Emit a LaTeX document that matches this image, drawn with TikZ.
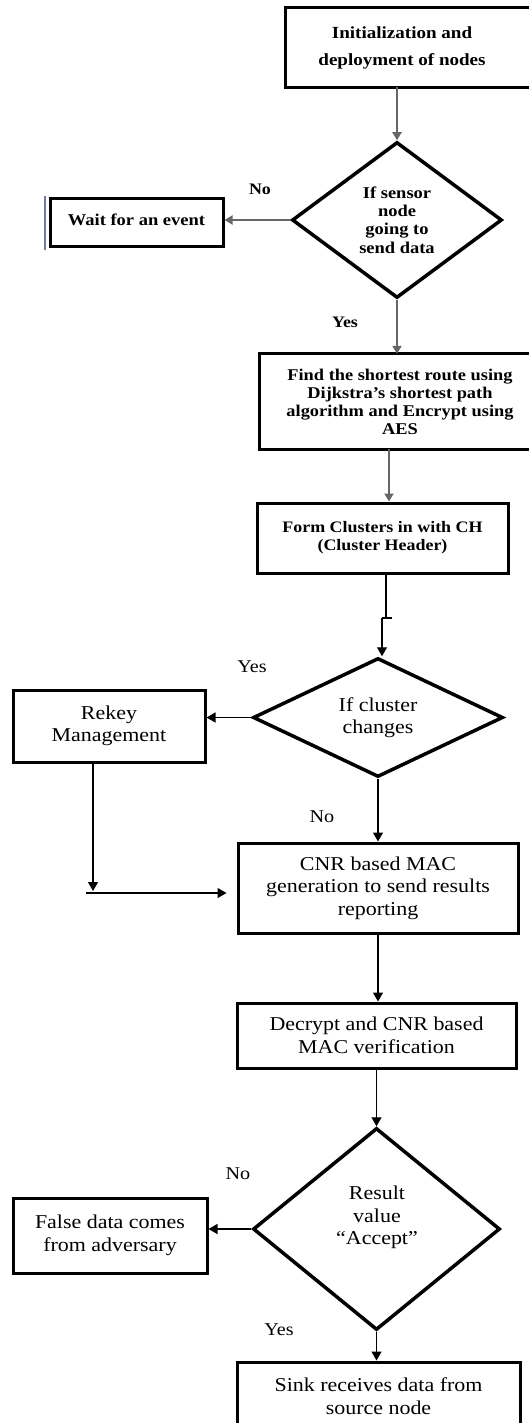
\documentclass[tikz,border=0pt]{standalone}
\usepackage{fontspec}
\setmainfont[FakeStretch=1.12]{Liberation Serif}
\usetikzlibrary{shapes.geometric,arrows.meta}
\tikzset{
  boxnode/.style={draw, line width=3pt, rectangle, inner sep=0pt, align=center},
  txtnode/.style={inner sep=0pt, align=center},
  frameline/.style={draw, line width=3pt},
  dianode/.style={draw, diamond, line width=3.5pt, inner sep=0pt, align=center},
  upfont/.style={font=\fontsize{16.5}{18.3}\selectfont\bfseries},
  lowfont/.style={font=\fontsize{19.6}{22.5}\selectfont},
  uplabel/.style={inner sep=0pt, font=\fontsize{16}{18}\selectfont\bfseries},
  lowlabel/.style={inner sep=0pt, font=\fontsize{18}{20}\selectfont},
  conU/.style={draw=black!60, line width=2pt, -{Triangle[length=8pt,width=9pt]}},
  conL/.style={draw=black, line width=1.3pt, -{Triangle[length=9pt,width=10pt]}},
  plainL/.style={draw=black, line width=1.3pt}
}
\begin{document}
\begin{tikzpicture}[x=1pt,y=-1pt]
\useasboundingbox (0,0) rectangle (529,1423);
\fill[white] (0,0) rectangle (529,1423);
\clip (0,0) rectangle (529,1423);

% Box 1 (runs off the right edge)
\node[txtnode, minimum width=232pt, minimum height=79pt,
      font=\fontsize{17}{27}\selectfont\bfseries] (b1) at (402,47.5)
  {Initialization and\\deployment of nodes};
\draw[frameline] (b1.north west) rectangle ([xshift=40pt]b1.south east);

% Decision 1
\node[dianode, upfont, minimum width=210pt, minimum height=156pt, shape aspect=1.35] (d1) at (397,220)
  {If sensor\\node\\going to\\send data};

% Wait box
\node[boxnode, upfont, minimum width=173pt, minimum height=48pt] (wait) at (136.5,223)
  {\raisebox{6pt}{Wait for an event}};
\draw[draw={rgb,255:red,110;green,125;blue,160}, line width=2pt] (45,196) -- (45,250);

% Box 3 (runs off the right edge)
\node[txtnode, font=\fontsize{16.4}{18}\selectfont\bfseries, minimum width=280pt, minimum height=95pt] (b3) at (400,401.5)
  {Find the shortest route using\\Dijkstra’s shortest path\\algorithm and Encrypt using\\AES};
\draw[frameline] (b3.north west) rectangle ([xshift=40pt]b3.south east);

% Box 4
\node[boxnode, font=\fontsize{16}{18}\selectfont\bfseries, minimum width=251pt, minimum height=70pt] (b4) at (382.5,538)
  {\raisebox{6pt}{\begin{tabular}{@{}c@{}}Form Clusters in with CH\\(Cluster Header)\end{tabular}}};

% Decision 2
\node[dianode, lowfont, minimum width=250pt, minimum height=119pt, shape aspect=2.1] (d2) at (378,717.5)
  {If cluster\\changes};

% Rekey box
\node[boxnode, lowfont, minimum width=192pt, minimum height=72pt] (rk) at (109,726)
  {Rekey\\Management};

% CNR box
\node[boxnode, lowfont, minimum width=280pt, minimum height=90pt] (cnr) at (378,888)
  {CNR based MAC\\generation to send results\\reporting};

% Decrypt box
\node[boxnode, lowfont, minimum width=279pt, minimum height=65pt] (dec) at (376.5,1035.5)
  {Decrypt and CNR based\\MAC verification};

% Decision 3
\node[dianode, minimum width=247pt, minimum height=202pt] (d3) at (376.5,1229) {};
\node[txtnode, lowfont] (d3t) at (377,1217.5) {Result\\value\\“Accept”};

% False data box
\node[boxnode, lowfont, minimum width=194pt, minimum height=75pt] (fal) at (110,1235.5)
  {False data comes\\from adversary};

% Sink box (runs off the bottom edge)
\node[boxnode, lowfont, minimum width=283pt, minimum height=68pt] (sink) at (378.5,1396)
  {Sink receives data from\\source node};

% Labels
\node[uplabel] (lno1) at (260,189) {No};
\node[uplabel] (lyes1) at (345,322) {Yes};
\node[lowlabel] (lyes2) at (252,667) {Yes};
\node[lowlabel] (lno2) at (322,817) {No};
\node[lowlabel] (lno3) at (238,1174) {No};
\node[lowlabel] (lyes3) at (279,1330) {Yes};

% Connectors (upper part)
\draw[conU] (d1.north |- b1.south) -- (d1.north);
\draw[conU] (d1.west) -- (d1.west -| wait.east);
\draw[conU] (d1.south) -- (d1.south |- b3.north);
\draw[conU] ([xshift=-11pt]b3.south) -- ([xshift=-11pt]b3.south |- b4.north);

% b4 -> d2 with small jog
\coordinate (j1) at (386,618);
\coordinate (j2) at (382,618);
\draw[plainL] (b4.south -| j1) -- (j1);
\draw[plainL] (j2) -- ++(10,0);
\draw[conL] (j2) -- (j2 |- d2.north);

% Lower connectors
\draw[conL] (d2.west) -- (d2.west -| rk.east);
\draw[conL] (d2.south) -- (d2.south |- cnr.north);
\coordinate (rkEnd) at (93,891);
\draw[conL] (rk.south -| rkEnd) -- (rkEnd);
\coordinate (mrg) at (86,893);
\draw[conL, shorten >=10pt] (mrg) -- (mrg -| cnr.west);
\draw[conL] (cnr.south) -- (cnr.south |- dec.north);
\draw[conL] (d3.north |- dec.south) -- (d3.north);
\draw[conL] (d3.west) -- (d3.west -| fal.east);
\draw[conL] (d3.south) -- (d3.south |- sink.north);
\end{tikzpicture}
\end{document}
